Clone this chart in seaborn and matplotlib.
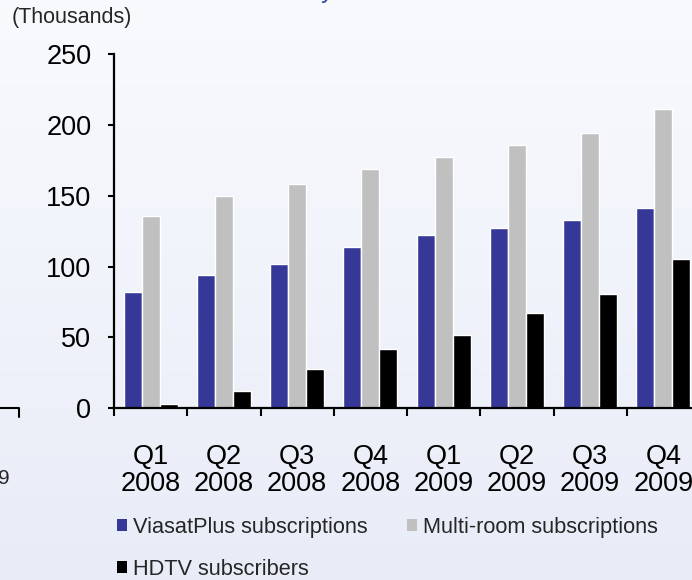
import numpy as np
import pandas as pd
import matplotlib.pyplot as plt
import seaborn as sns
from matplotlib.patches import Patch
from matplotlib.lines import Line2D

quarters = ["Q1\n2008", "Q2\n2008", "Q3\n2008", "Q4\n2008",
            "Q1\n2009", "Q2\n2009", "Q3\n2009", "Q4\n2009"]
series = ["ViasatPlus subscriptions", "Multi-room subscriptions", "HDTV subscribers"]
viasatplus = [82, 94, 102, 114, 122, 127, 133, 141]
multiroom = [136, 150, 158, 169, 177, 186, 194, 211]
hdtv = [3, 12, 28, 42, 52, 67, 81, 105]
colors = ["#363898", "#C0C0C0", "#000000"]

df = pd.DataFrame({
    "quarter": quarters * 3,
    "series": [series[0]] * 8 + [series[1]] * 8 + [series[2]] * 8,
    "value": viasatplus + multiroom + hdtv,
})

sns.set_theme(style="white")
plt.rcParams["font.family"] = ["Liberation Sans", "DejaVu Sans"]

W, H = 692, 580
fig = plt.figure(figsize=(W / 100, H / 100), dpi=100)

# slide background gradient
bg = fig.add_axes([0, 0, 1, 1], zorder=-1)
top = np.array([249, 250, 254]) / 255
bot = np.array([232, 236, 247]) / 255
t = np.linspace(0, 1, 256)[:, None]
grad = (top[None, :] * (1 - t) + bot[None, :] * t)[:, None, :]
bg.imshow(grad, aspect="auto", extent=[0, 1, 0, 1])
bg.axis("off")

ax = fig.add_axes([114 / W, 1 - 408.3 / H, (700 - 114) / W, (408.3 - 54) / H])
ax.patch.set_alpha(0)

sns.barplot(data=df, x="quarter", y="value", hue="series", palette=colors,
            width=0.735, saturation=1, ax=ax, legend=False)

ax.set_xlim(-0.5, 7.5)
ax.set_ylim(0, 250)
ax.set_yticks(range(0, 251, 50))
ax.set_xlabel("")
ax.set_ylabel("")
sns.despine(ax=ax, top=True, right=True)
for s in ["left", "bottom"]:
    ax.spines[s].set_linewidth(1.6)
    ax.spines[s].set_color("black")

ax.set_xticks(np.arange(-0.5, 8, 1))
ax.set_xticklabels([])
ax.set_xticks(np.arange(8), minor=True)
ax.set_xticklabels(quarters, minor=True)
ax.tick_params(axis="x", which="major", direction="out", length=6, width=1.5,
               color="black", bottom=True)
ax.tick_params(axis="x", which="minor", length=0, pad=26, labelsize=19.5,
               labelcolor="black")
for lab in ax.get_xticklabels(minor=True):
    lab.set_linespacing(1.05)
ax.tick_params(axis="y", direction="out", length=4.3, width=1.5, color="black",
               left=True, pad=12, labelsize=19.5, labelcolor="black")

fig.text(12 / W, 1 - 7 / H, "(Thousands)", fontsize=15.5, va="top", ha="left")

handles = [Patch(facecolor=c, edgecolor="none") for c in colors]
order = [0, 2, 1]
fig.legend([handles[i] for i in order], [series[i] for i in order],
           loc="upper left", bbox_to_anchor=(117 / W, 1 - 517 / H), ncol=2,
           frameon=False, fontsize=15.7, handlelength=0.45, handleheight=0.45,
           handletextpad=0.28, columnspacing=1.8, labelspacing=0.95,
           borderpad=0, borderaxespad=0)

# fragments of the neighbouring chart on the slide
fig.add_artist(Line2D([0, 18.5 / W, 18.5 / W], [1 - 408.3 / H, 1 - 408.3 / H, 1 - 417 / H],
                      color="black", lw=1.5, transform=fig.transFigure))
fig.text(10 / W, 1 - 478 / H, "2009", fontsize=15, ha="right", va="center")
fig.text(321 / W, 1 + 2 / H, "y", fontsize=18, color="#2F5496", ha="left", va="baseline")

fig.savefig("out.png", dpi=100)
